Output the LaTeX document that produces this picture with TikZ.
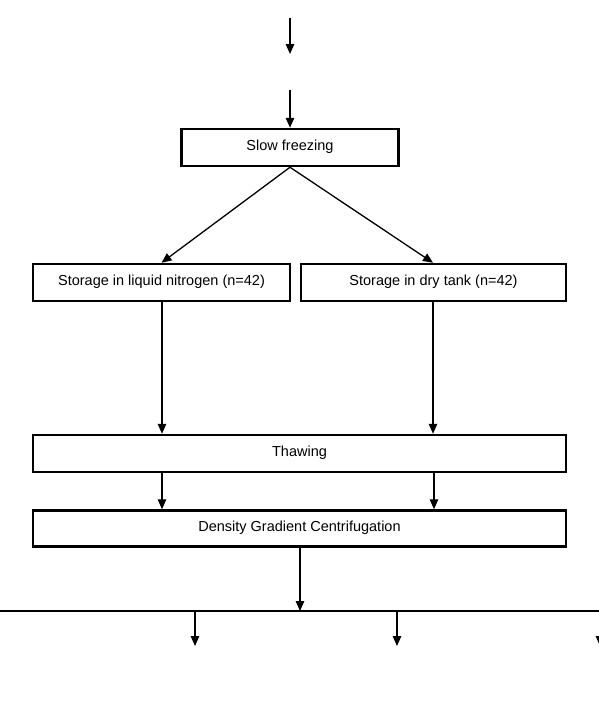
\documentclass[tikz,border=0pt]{standalone}
\usepackage{fontspec}
\setmainfont{Liberation Sans}
\usetikzlibrary{arrows.meta}
\begin{document}
\begin{tikzpicture}[x=1pt,y=-1pt,
  stepbox/.style={draw,line width=2.5pt,minimum height=37pt,inner sep=0pt,text height=11pt,text depth=5pt,font=\fontsize{14.5}{17}\selectfont},
  arr/.style={line width=1.3pt,-{Triangle[length=10pt,width=8.5pt]}},
  plain/.style={line width=1.3pt}]
\useasboundingbox (0,0) rectangle (599,707);
% boxes
\node[stepbox,minimum width=217pt] (sf) at (290,147.5) {Slow freezing};
\node[stepbox,minimum width=257pt] (ln) at (161.5,282.5) {Storage in liquid nitrogen (n=42)};
\node[stepbox,minimum width=265pt] (dt) at (433.5,282.5) {Storage in dry tank (n=42)};
\node[stepbox,minimum width=533pt] (th) at (299.5,453.5) {Thawing};
\node[stepbox,minimum width=533pt,minimum height=36pt] (dg) at (299.5,528.5) {Density Gradient Centrifugation};
% top arrows
\coordinate (a0) at (290,18);
\coordinate (a1) at (290,54);
\coordinate (a2) at (290,90);
\draw[arr] (a0) -- (a1);
\draw[arr] (a2) -- (sf.north);
% diagonal arrows
\draw[arr] (sf.south) -- (ln.north);
\draw[arr] (sf.south) -- (dt.north -| 433,0);
% vertical arrows
\draw[arr] (ln.south -| 162,0) -- (th.north -| 162,0);
\draw[arr] (dt.south -| 433,0) -- (th.north -| 433,0);
\draw[arr] (th.south -| 162,0) -- (dg.north -| 162,0);
\draw[arr] (th.south -| 434,0) -- (dg.north -| 434,0);
% bottom distribution
\coordinate (hl) at (0,611);
\coordinate (hr) at (599,611);
\draw[arr] (dg.south -| 300,0) -- (300,611);
\draw[plain] (hl) -- (hr);
\coordinate (b1) at (195,646);
\coordinate (b2) at (397,646);
\coordinate (b3) at (600,646);
\draw[arr] (b1 |- hl) -- (b1);
\draw[arr] (b2 |- hl) -- (b2);
\draw[arr] (b3 |- hl) -- (b3);
\end{tikzpicture}
\end{document}
